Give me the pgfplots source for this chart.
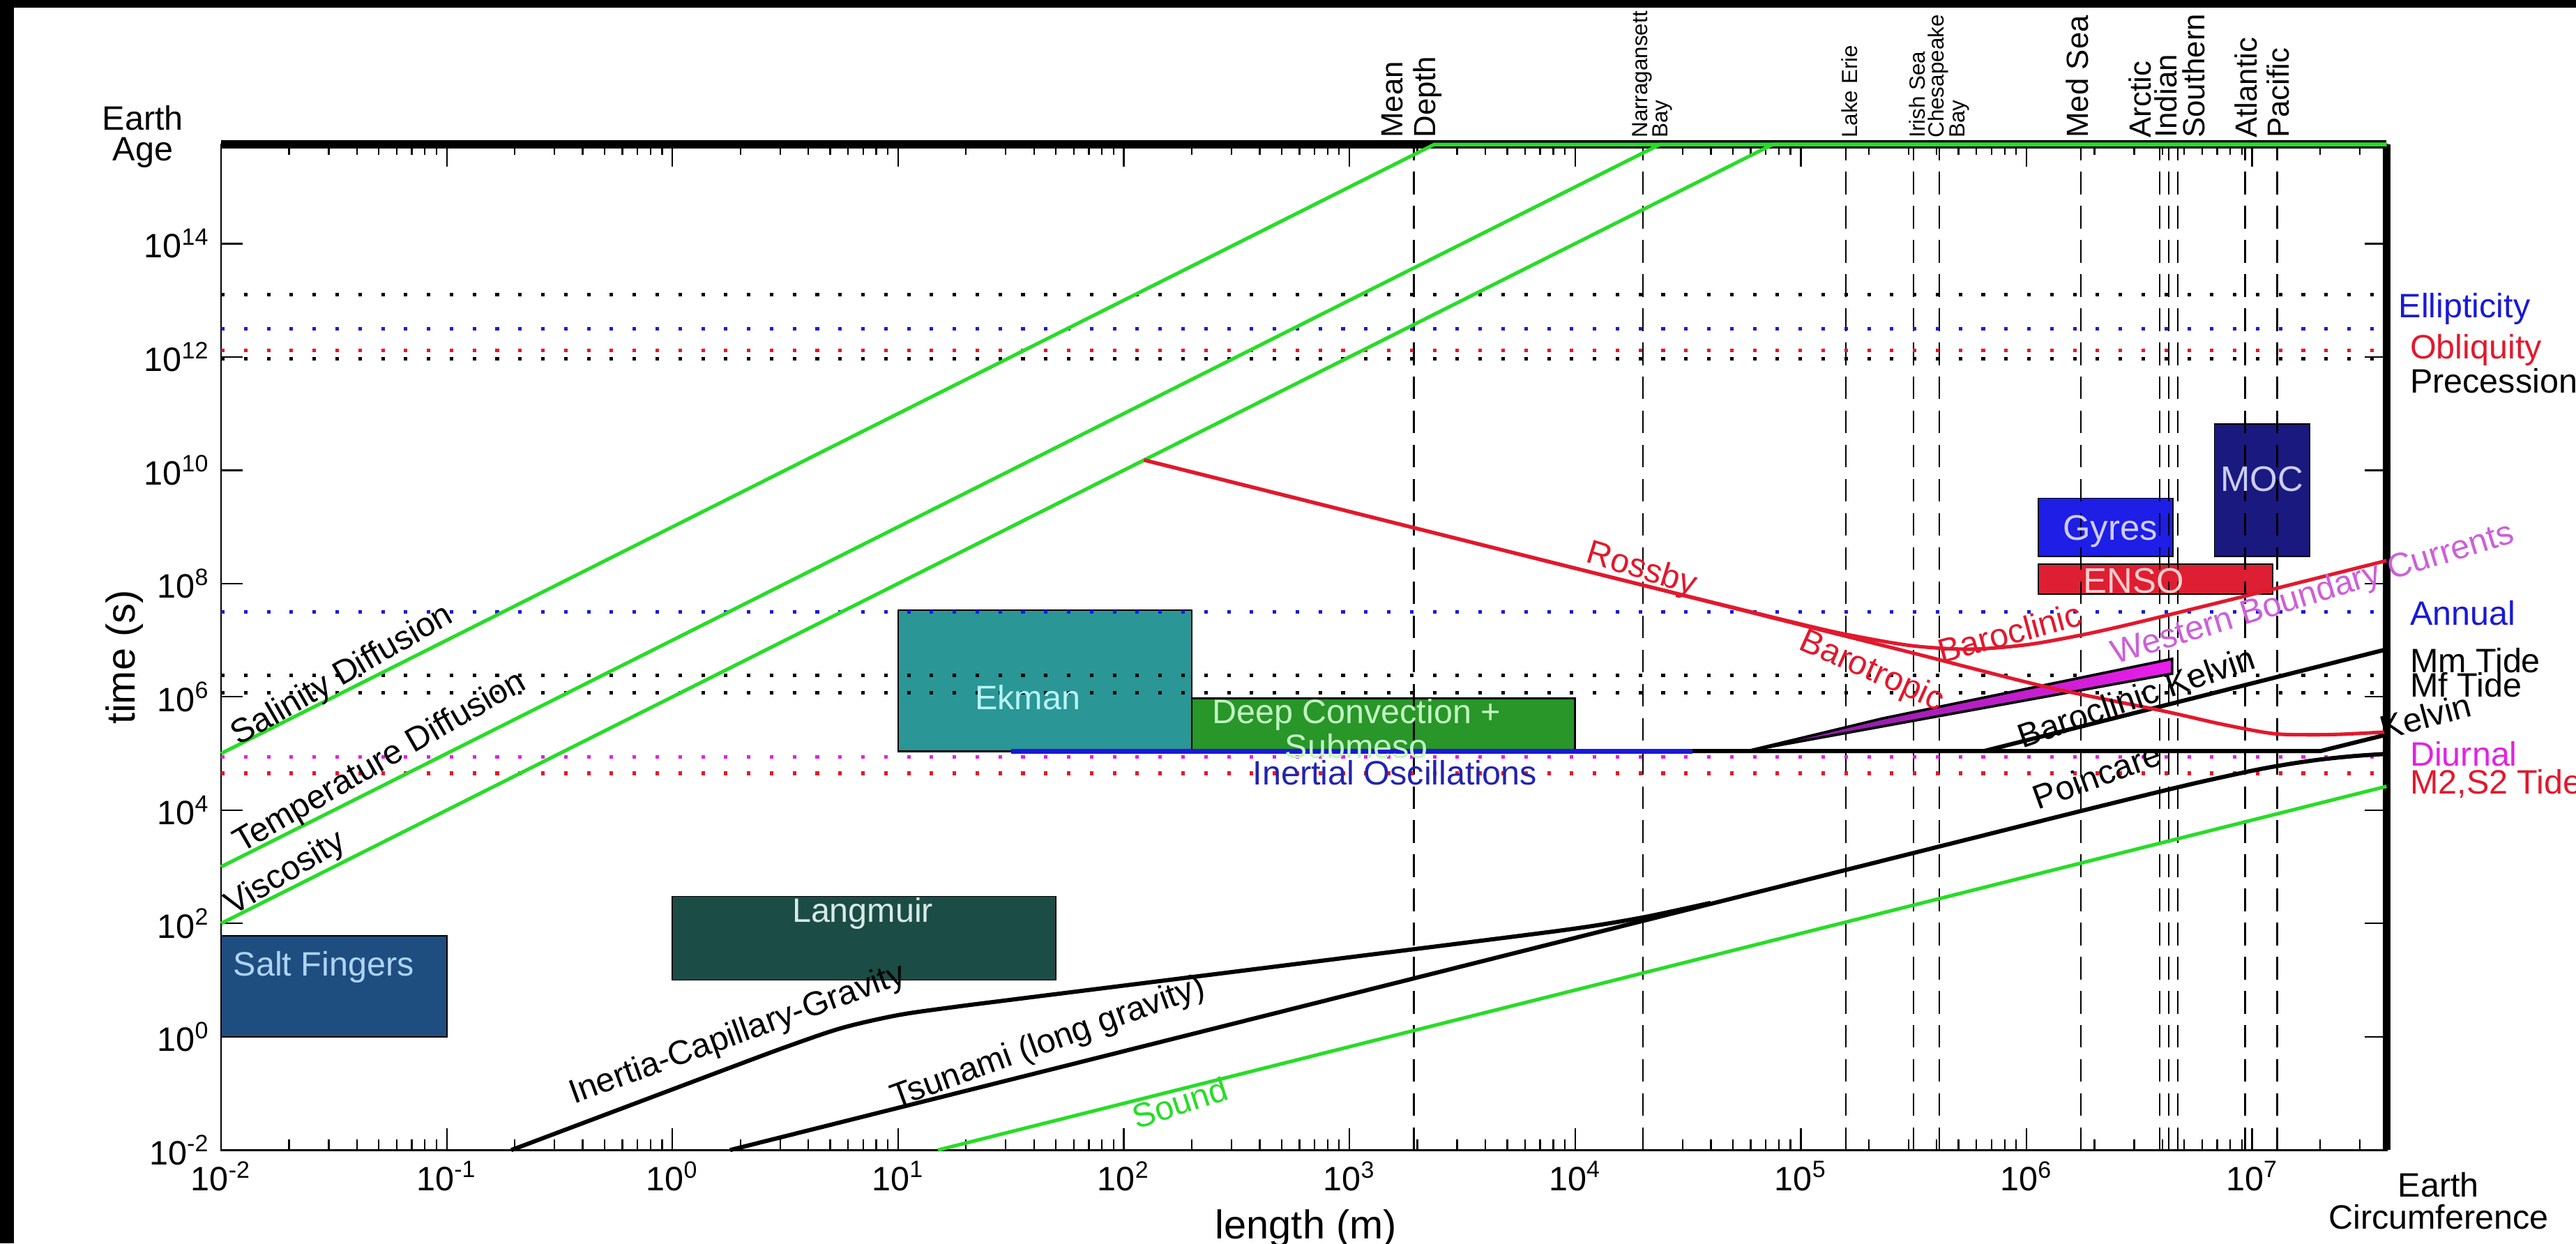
\documentclass[border=0pt]{standalone}
\usepackage{pgfplots}
\pgfplotsset{compat=1.18}
\usepackage{fontspec}
\setmainfont{Liberation Sans}
\definecolor{gr}{RGB}{40,220,40}
\definecolor{rd}{RGB}{225,25,45}
\definecolor{bl}{RGB}{25,25,215}
\definecolor{mg}{RGB}{225,35,225}
\definecolor{wbc}{RGB}{205,95,215}
\definecolor{saltf}{RGB}{30,78,128}
\definecolor{saltt}{RGB}{175,212,250}
\definecolor{langf}{RGB}{28,76,70}
\definecolor{langt}{RGB}{215,235,230}
\definecolor{ekf}{RGB}{42,150,150}
\definecolor{ekt}{RGB}{185,245,245}
\definecolor{dcf}{RGB}{40,150,40}
\definecolor{dct}{RGB}{195,245,195}
\definecolor{gyf}{RGB}{30,30,230}
\definecolor{gyt}{RGB}{205,205,255}
\definecolor{enf}{RGB}{222,30,50}
\definecolor{ent}{RGB}{255,205,205}
\definecolor{mocf}{RGB}{25,25,128}
\definecolor{moct}{RGB}{205,205,245}
\definecolor{iot}{RGB}{35,35,175}
\newcommand\fA{\fontsize{10.5}{12.5}\selectfont}
\newcommand\fB{\fontsize{9.5}{10.2}\selectfont}
\newcommand\fC{\fontsize{6.8}{6.4}\selectfont}
\newcommand\fL{\fontsize{12.5}{14}\selectfont}
\pgfplotsset{
  dotl/.style={line width=1.1pt, dash pattern=on 1.1pt off 6pt},
  dashv/.style={black, line width=0.5pt, dash pattern=on 7pt off 3.6pt},
}
\begin{document}
\begin{tikzpicture}
\fill[black] (0,0) rectangle (800pt,386.2pt);
\fill[white] (4.3pt,0) rectangle (800pt,383.8pt);
\begin{axis}[
  at={(68.66pt,29.02pt)}, anchor=south west,
  scale only axis, width=672.5pt, height=312.3pt,
  xmode=log, ymode=log,
  xmin=1e-2, xmax=3.94e7, ymin=1e-2, ymax=5.62e15,
  clip=false,
  axis line style={line width=0.6pt},
  tick align=inside,
  major tick length=6.8pt, minor tick length=3.3pt,
  every tick/.style={black, line width=0.5pt},
  xtick={1e-2,1e-1,1,10,100,1e3,1e4,1e5,1e6,1e7},
  xticklabels={10\textsuperscript{-2},10\textsuperscript{-1},10\textsuperscript{0},10\textsuperscript{1},10\textsuperscript{2},10\textsuperscript{3},10\textsuperscript{4},10\textsuperscript{5},10\textsuperscript{6},10\textsuperscript{7}},
  xminorticks=true,
  minor xtick={0.02,0.03,0.04,0.05,0.06,0.07,0.08,0.09,0.2,0.3,0.4,0.5,0.6,0.7,0.8,0.9,2,3,4,5,6,7,8,9,20,30,40,50,60,70,80,90,200,300,400,500,600,700,800,900,2e3,3e3,4e3,5e3,6e3,7e3,8e3,9e3,2e4,3e4,4e4,5e4,6e4,7e4,8e4,9e4,2e5,3e5,4e5,5e5,6e5,7e5,8e5,9e5,2e6,3e6,4e6,5e6,6e6,7e6,8e6,9e6,2e7,3e7},
  ytick={1e-2,1,100,1e4,1e6,1e8,1e10,1e12,1e14},
  yticklabels={10\textsuperscript{-2},10\textsuperscript{0},10\textsuperscript{2},10\textsuperscript{4},10\textsuperscript{6},10\textsuperscript{8},10\textsuperscript{10},10\textsuperscript{12},10\textsuperscript{14}},
  yminorticks=false,
  tick label style={font=\fA},
  xlabel={length (m)}, ylabel={time (s)},
  xlabel style={at={(0.501,-0.078)}, anchor=center, font=\fL},
  ylabel style={at={(-0.0445,0.49)}, anchor=center, font=\fL},
]
% boxes
\addplot[fill=saltf, draw=black, line width=0.4pt] coordinates {(0.01,1) (0.1,1) (0.1,60) (0.01,60)} -- cycle;
\addplot[fill=langf, draw=black, line width=0.4pt] coordinates {(1,10) (50,10) (50,300) (1,300)} -- cycle;
\addplot[fill=ekf, draw=black, line width=0.6pt] coordinates {(10,1.1e5) (200,1.1e5) (200,3.4e7) (10,3.4e7)} -- cycle;
\addplot[fill=dcf, draw=black, line width=0.6pt] coordinates {(200,1.1e5) (1e4,1.1e5) (1e4,9.5e5) (200,9.5e5)} -- cycle;
\addplot[fill=gyf, draw=black, line width=0.4pt] coordinates {(1.13e6,3.0e8) (4.45e6,3.0e8) (4.45e6,3.2e9) (1.13e6,3.2e9)} -- cycle;
\addplot[fill=enf, draw=black, line width=0.4pt] coordinates {(1.13e6,6.5e7) (1.23e7,6.5e7) (1.23e7,2.2e8) (1.13e6,2.2e8)} -- cycle;
\addplot[fill=mocf, draw=black, line width=0.4pt] coordinates {(6.8e6,3.0e8) (1.8e7,3.0e8) (1.8e7,6.5e10) (6.8e6,6.5e10)} -- cycle;
% dashed vertical lines
\addplot[dashv] coordinates {(1.93e3,0.01) (1.93e3,5.62e15)};
\addplot[dashv] coordinates {(2e4,0.01) (2e4,5.62e15)};
\addplot[dashv] coordinates {(1.58e5,0.01) (1.58e5,5.62e15)};
\addplot[dashv] coordinates {(3.16e5,0.01) (3.16e5,5.62e15)};
\addplot[dashv] coordinates {(4.1e5,0.01) (4.1e5,5.62e15)};
\addplot[dashv] coordinates {(1.74e6,0.01) (1.74e6,5.62e15)};
\addplot[dashv] coordinates {(3.9e6,0.01) (3.9e6,5.62e15)};
\addplot[dashv] coordinates {(4.27e6,0.01) (4.27e6,5.62e15)};
\addplot[dashv] coordinates {(4.68e6,0.01) (4.68e6,5.62e15)};
\addplot[dashv] coordinates {(9.3e6,0.01) (9.3e6,5.62e15)};
\addplot[dashv] coordinates {(1.29e7,0.01) (1.29e7,5.62e15)};
% dotted horizontal lines
\addplot[dotl, black] coordinates {(0.01,1.26e13) (3.94e7,1.26e13)};
\addplot[dotl, bl] coordinates {(0.01,3.16e12) (3.94e7,3.16e12)};
\addplot[dotl, rd] coordinates {(0.01,1.29e12) (3.94e7,1.29e12)};
\addplot[dotl, black] coordinates {(0.01,9.3e11) (3.94e7,9.3e11)};
\addplot[dotl, bl] coordinates {(0.01,3.156e7) (3.94e7,3.156e7)};
\addplot[dotl, black] coordinates {(0.01,2.38e6) (3.94e7,2.38e6)};
\addplot[dotl, black] coordinates {(0.01,1.18e6) (3.94e7,1.18e6)};
\addplot[dotl, mg] coordinates {(0.01,8.64e4) (3.94e7,8.64e4)};
\addplot[dotl, rd] coordinates {(0.01,4.47e4) (3.94e7,4.47e4)};
% Earth age / circumference
\addplot[black, line width=2.5pt] coordinates {(0.01,5.62e15) (3.94e7,5.62e15)};
\addplot[black, line width=2.5pt] coordinates {(3.94e7,0.01) (3.94e7,5.62e15)};
% diffusion lines and sound
\addplot[gr, line width=1.1pt] coordinates {(0.01,1e5) (2371,5.62e15) (3.94e7,5.62e15)};
\addplot[gr, line width=1.1pt] coordinates {(0.01,1e3) (23707,5.62e15) (3.94e7,5.62e15)};
\addplot[gr, line width=1.1pt] coordinates {(0.01,100) (74967,5.62e15) (3.94e7,5.62e15)};
\addplot[gr, line width=1.1pt] coordinates {(15,0.01) (3.94e7,2.63e4)};
% magenta wedge
\addplot[draw=black, line width=0.8pt, left color={rgb,255:red,120;green,30;blue,150}, right color={rgb,255:red,235;green,30;blue,235}] coordinates {(5.75e4,1.1e5) (2.31e5,4.17e5) (4.42e6,4.68e6) (4.42e6,2.57e6)} -- cycle;
% gravity waves
\addplot[black, line width=1.3pt, smooth] coordinates {(0.1932,0.01) (0.3162,0.02094) (0.5623,0.04966) (1,0.1178) (1.778,0.279) (3.162,0.6546) (5.623,1.426) (10,2.41) (17.78,3.357) (31.62,4.498) (100,8.0) (316.2,14.22) (1000,25.3) (3162,45.0) (1e4,81.3) (2e4,128) (3.98e4,230.7)};
\addplot[black, line width=1.3pt, smooth] coordinates {(1.8,0.01) (10,0.0556) (100,0.556) (1000,5.56) (1e4,55.6) (1e5,556) (1e6,5550) (1.778e6,9848) (3.162e6,1.734e4) (5.623e6,3.007e4) (1e7,4.966e4) (1.413e7,6.39e4) (1.995e7,7.81e4) (2.818e7,9.0e4) (3.94e7,9.85e4)};
% Kelvin (barotropic) and baroclinic Kelvin
\addplot[black, line width=1.3pt] coordinates {(2e4,1.1e5) (2e7,1.1e5) (3.94e7,2.15e5)};
\addplot[black, line width=1.3pt] coordinates {(6.46e5,1.1e5) (3.94e7,6.9e6)};
% Rossby
\addplot[rd, line width=1.1pt, smooth] coordinates {(123,1.514e10) (1e3,1.862e9) (1e4,1.862e8) (1e5,1.926e7) (1.778e5,1.162e7) (3.162e5,7.923e6) (5.623e5,6.93e6) (1e6,8.297e6) (1.778e6,1.249e7) (3.162e6,2.094e7) (1e7,6.45e7) (2e7,1.288e8) (3.94e7,2.54e8)};
\addplot[rd, line width=1.1pt, smooth] coordinates {(123,1.514e10) (1e3,1.862e9) (1e4,1.862e8) (1e5,1.862e7) (3.162e5,5.89e6) (1.211e6,1.514e6) (4.04e6,5.62e5) (7.28e6,3.31e5) (1.222e7,2.26e5) (1.778e7,2.14e5) (2.512e7,2.19e5) (3.94e7,2.4e5)};
% inertial oscillations
\addplot[bl, line width=1.5pt] coordinates {(31.6,1.1e5) (3.3e4,1.1e5)};
% box labels
\node[text=saltt, font=\fA] at (rel axis cs:0.0474,0.1822) {Salt Fingers};
\node[text=langt, font=\fA] at (rel axis cs:0.2963,0.2353) {Langmuir};
\node[text=ekt, font=\fA] at (rel axis cs:0.3725,0.4502) {Ekman};
\node[text=dct, font=\fontsize{10.5}{7.4}\selectfont, align=center] at (rel axis cs:0.5243,0.4190) {Deep Convection +\\Submeso};
\node[text=gyt, font=\fontsize{11}{13}\selectfont] at (rel axis cs:0.8724,0.6154) {Gyres};
\node[text=ent, font=\fontsize{11}{13}\selectfont] at (rel axis cs:0.8833,0.5657) {ENSO};
\node[text=moct, font=\fontsize{11}{13}\selectfont] at (rel axis cs:0.9425,0.6675) {MOC};
\node[text=iot, font=\fA] at (rel axis cs:0.5421,0.3753) {Inertial Oscillations};
% line labels
\node[font=\fA, rotate=30] at (rel axis cs:0.0561,0.4714) {Salinity Diffusion};
\node[font=\fA, rotate=30] at (rel axis cs:0.0735,0.3850) {Temperature Diffusion};
\node[font=\fA, rotate=31] at (rel axis cs:0.0299,0.2745) {Viscosity};
\node[font=\fA, rotate=20] at (rel axis cs:0.2386,0.1144) {Inertia-Capillary-Gravity};
\node[font=\fA, rotate=20] at (rel axis cs:0.3820,0.1062) {Tsunami (long gravity)};
\node[font=\fA, rotate=18, text=gr] at (rel axis cs:0.4427,0.0474) {Sound};
\node[font=\fA, rotate=-17, text=rd] at (rel axis cs:0.6559,0.5768) {Rossby};
\node[font=\fA, rotate=15, text=rd] at (rel axis cs:0.8259,0.5147) {Baroclinic};
\node[font=\fA, rotate=-24, text=rd] at (rel axis cs:0.7622,0.4755) {Barotropic};
\node[font=\fA, rotate=17, text=wbc] at (rel axis cs:0.9660,0.5520) {Western Boundary Currents};
\node[font=\fA, rotate=19] at (rel axis cs:0.8844,0.4510) {Baroclinic Kelvin};
\node[font=\fA, rotate=20] at (rel axis cs:0.8662,0.3725) {Poincare};
% right labels
\node[font=\fA, text=bl, anchor=west, inner sep=0pt] at (rel axis cs:1.0053,0.8366) {Ellipticity};
\node[font=\fA, text=rd, anchor=west, inner sep=0pt] at (rel axis cs:1.0106,0.7958) {Obliquity};
\node[font=\fA, anchor=west, inner sep=0pt] at (rel axis cs:1.0106,0.7647) {Precession};
\node[font=\fA, text=bl, anchor=west, inner sep=0pt] at (rel axis cs:1.0106,0.5343) {Annual};
\node[font=\fA, anchor=west, inner sep=0pt] at (rel axis cs:1.0106,0.4869) {Mm Tide};
\node[font=\fA, anchor=west, inner sep=0pt] at (rel axis cs:1.0106,0.4624) {Mf Tide};
\node[font=\fA, rotate=15] at (rel axis cs:1.018,0.4314) {Kelvin};
\node[font=\fA, text=mg, anchor=west, inner sep=0pt] at (rel axis cs:1.0106,0.3938) {Diurnal};
\node[font=\fA, text=rd, anchor=west, inner sep=0pt] at (rel axis cs:1.0106,0.3644) {M2,S2 Tide};
% top labels
\node[font=\fB, rotate=90, anchor=west, inner sep=0pt, align=left] at (rel axis cs:0.5498,1.006) {Mean\\Depth};
\node[font=\fC, rotate=90, anchor=west, inner sep=0pt, align=left] at (rel axis cs:0.661,1.006) {Narragansett\\Bay};
\node[font=\fC, rotate=90, anchor=west, inner sep=0pt] at (rel axis cs:0.752,1.006) {Lake Erie};
\node[font=\fC, rotate=90, anchor=west, inner sep=0pt] at (rel axis cs:0.7834,1.006) {Irish Sea};
\node[font=\fC, rotate=90, anchor=west, inner sep=0pt, align=left] at (rel axis cs:0.7977,1.006) {Chesapeake\\Bay};
\node[font=\fB, rotate=90, anchor=west, inner sep=0pt] at (rel axis cs:0.8573,1.006) {Med Sea};
\node[font=\fB, rotate=90, anchor=west, inner sep=0pt] at (rel axis cs:0.8862,1.006) {Arctic};
\node[font=\fB, rotate=90, anchor=west, inner sep=0pt] at (rel axis cs:0.898,1.006) {Indian};
\node[font=\fB, rotate=90, anchor=west, inner sep=0pt] at (rel axis cs:0.911,1.006) {Southern};
\node[font=\fB, rotate=90, anchor=west, inner sep=0pt] at (rel axis cs:0.935,1.006) {Atlantic};
\node[font=\fB, rotate=90, anchor=west, inner sep=0pt] at (rel axis cs:0.9498,1.006) {Pacific};
% corner labels
\node[font=\fontsize{10.5}{9.5}\selectfont, align=center] at (rel axis cs:-0.0361,1.008) {Earth\\Age};
\node[font=\fontsize{10.5}{10}\selectfont, align=center] at (rel axis cs:1.024,-0.0507) {Earth\\Circumference};
\end{axis}
\pgfresetboundingbox
\path[use as bounding box] (0,0) rectangle (800pt,386.2pt);
\end{tikzpicture}
\end{document}
